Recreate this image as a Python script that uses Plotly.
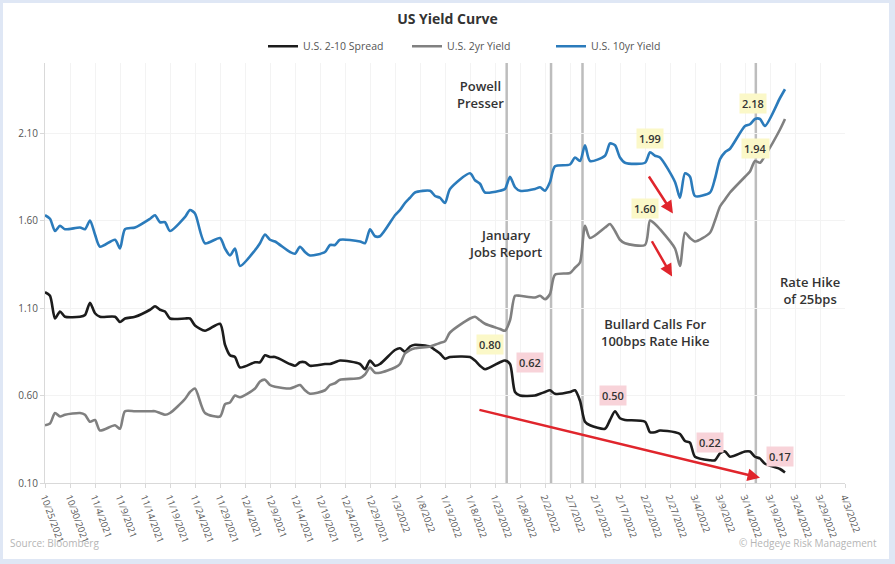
import plotly.graph_objects as go

# === DATA ===
dates = [
    "2021-10-25", "2021-10-26", "2021-10-27", "2021-10-28", "2021-10-29",
    "2021-11-01", "2021-11-02", "2021-11-03", "2021-11-04", "2021-11-05",
    "2021-11-08", "2021-11-09", "2021-11-10", "2021-11-12", "2021-11-15",
    "2021-11-16", "2021-11-17", "2021-11-18", "2021-11-19", "2021-11-22",
    "2021-11-23", "2021-11-24", "2021-11-26", "2021-11-29", "2021-11-30",
    "2021-12-01", "2021-12-02", "2021-12-03", "2021-12-06", "2021-12-07",
    "2021-12-08", "2021-12-09", "2021-12-10", "2021-12-13", "2021-12-14",
    "2021-12-15", "2021-12-16", "2021-12-17", "2021-12-20", "2021-12-21",
    "2021-12-22", "2021-12-23", "2021-12-27", "2021-12-28", "2021-12-29",
    "2021-12-30", "2021-12-31", "2022-01-03", "2022-01-04", "2022-01-05",
    "2022-01-06", "2022-01-07", "2022-01-10", "2022-01-11", "2022-01-12",
    "2022-01-13", "2022-01-14", "2022-01-18", "2022-01-19", "2022-01-20",
    "2022-01-21", "2022-01-24", "2022-01-25", "2022-01-26", "2022-01-27",
    "2022-01-28", "2022-01-31", "2022-02-01", "2022-02-02", "2022-02-03",
    "2022-02-04", "2022-02-07", "2022-02-08", "2022-02-09", "2022-02-10",
    "2022-02-11", "2022-02-14", "2022-02-15", "2022-02-16", "2022-02-17",
    "2022-02-18", "2022-02-22", "2022-02-23", "2022-02-24", "2022-02-25",
    "2022-02-28", "2022-03-01", "2022-03-02", "2022-03-03", "2022-03-04",
    "2022-03-07", "2022-03-08", "2022-03-09", "2022-03-10", "2022-03-11",
    "2022-03-14", "2022-03-15", "2022-03-16", "2022-03-17", "2022-03-18",
    "2022-03-21", "2022-03-22",
]

ten_yr = [
    1.63, 1.61, 1.54, 1.57, 1.55, 1.56, 1.55, 1.60, 1.52, 1.45,
    1.49, 1.44, 1.55, 1.56, 1.61, 1.63, 1.59, 1.59, 1.54, 1.62,
    1.66, 1.64, 1.47, 1.50, 1.44, 1.40, 1.44, 1.34, 1.43, 1.47,
    1.52, 1.49, 1.48, 1.42, 1.41, 1.45, 1.42, 1.40, 1.42, 1.46,
    1.46, 1.49, 1.48, 1.47, 1.55, 1.51, 1.51, 1.63, 1.66, 1.70,
    1.73, 1.76, 1.77, 1.74, 1.73, 1.70, 1.78, 1.87, 1.83, 1.81,
    1.76, 1.77, 1.78, 1.85, 1.79, 1.77, 1.78, 1.79, 1.77, 1.82,
    1.91, 1.92, 1.96, 1.94, 2.03, 1.94, 1.97, 2.04, 2.03, 1.96,
    1.93, 1.93, 1.99, 1.97, 1.96, 1.82, 1.73, 1.87, 1.85, 1.74,
    1.76, 1.84, 1.95, 1.99, 2.01, 2.14, 2.15, 2.18, 2.18, 2.14,
    2.30, 2.35,
]

two_yr = [
    0.43, 0.44, 0.50, 0.48, 0.49, 0.50, 0.49, 0.45, 0.46, 0.40,
    0.43, 0.41, 0.51, 0.51, 0.51, 0.51, 0.50, 0.49, 0.50, 0.58,
    0.62, 0.64, 0.50, 0.48, 0.55, 0.56, 0.60, 0.59, 0.64, 0.68,
    0.69, 0.66, 0.65, 0.64, 0.65, 0.66, 0.63, 0.61, 0.63, 0.66,
    0.67, 0.69, 0.70, 0.72, 0.76, 0.73, 0.73, 0.76, 0.78, 0.84,
    0.86, 0.87, 0.88, 0.89, 0.90, 0.91, 0.96, 1.04, 1.05, 1.03,
    1.01, 0.98, 0.97, 1.03, 1.17, 1.17, 1.16, 1.17, 1.15, 1.18,
    1.29, 1.30, 1.33, 1.36, 1.57, 1.50, 1.56, 1.58, 1.54, 1.49,
    1.47, 1.46, 1.60, 1.58, 1.55, 1.44, 1.34, 1.53, 1.50, 1.48,
    1.53, 1.60, 1.68, 1.72, 1.76, 1.85, 1.88, 1.94, 1.93, 1.97,
    2.12, 2.18,
]

spread = [
    1.19, 1.17, 1.04, 1.08, 1.05, 1.05, 1.06, 1.13, 1.07, 1.05,
    1.05, 1.02, 1.04, 1.05, 1.09, 1.11, 1.09, 1.08, 1.04, 1.04,
    1.04, 1.00, 0.97, 1.01, 0.89, 0.83, 0.82, 0.76, 0.79, 0.79,
    0.83, 0.82, 0.82, 0.78, 0.77, 0.79, 0.79, 0.77, 0.78, 0.78,
    0.79, 0.80, 0.78, 0.75, 0.80, 0.77, 0.78, 0.86, 0.87, 0.85,
    0.88, 0.89, 0.88, 0.86, 0.84, 0.81, 0.82, 0.82, 0.80, 0.77,
    0.75, 0.79, 0.80, 0.78, 0.62, 0.60, 0.60, 0.61, 0.62, 0.63,
    0.61, 0.62, 0.63, 0.57, 0.45, 0.43, 0.41, 0.46, 0.51, 0.47,
    0.46, 0.45, 0.39, 0.39, 0.40, 0.39, 0.38, 0.34, 0.33, 0.25,
    0.23, 0.23, 0.27, 0.28, 0.25, 0.28, 0.28, 0.25, 0.24, 0.21,
    0.18, 0.16,
]

# x axis ticks every 5 days
tick_dates = [
    "2021-10-25", "2021-10-30", "2021-11-04", "2021-11-09", "2021-11-14",
    "2021-11-19", "2021-11-24", "2021-11-29", "2021-12-04", "2021-12-09",
    "2021-12-14", "2021-12-19", "2021-12-24", "2021-12-29", "2022-01-03",
    "2022-01-08", "2022-01-13", "2022-01-18", "2022-01-23", "2022-01-28",
    "2022-02-02", "2022-02-07", "2022-02-12", "2022-02-17", "2022-02-22",
    "2022-02-27", "2022-03-04", "2022-03-09", "2022-03-14", "2022-03-19",
    "2022-03-24", "2022-03-29", "2022-04-03",
]

# event lines: Powell presser, January jobs report, Bullard, rate hike
event_dates = ["2022-01-25 08:00", "2022-02-03 05:00", "2022-02-09 12:00", "2022-03-16 04:00"]

# value callouts: (date, y, text, background)
callouts = [
    ("2022-02-23", 2.07, "1.99", "#fbf8c8"),
    ("2022-03-15 14:00", 2.27, "2.18", "#fbf8c8"),
    ("2022-02-22", 1.67, "1.60", "#fbf8c8"),
    ("2022-03-16", 2.01, "1.94", "#fbf8c8"),
    ("2022-01-22", 0.89, "0.80", "#fbf8c8"),
    ("2022-01-30", 0.79, "0.62", "#f8d3d9"),
    ("2022-02-15 14:00", 0.60, "0.50", "#f8d3d9"),
    ("2022-03-07", 0.33, "0.22", "#f8d3d9"),
    ("2022-03-21", 0.25, "0.17", "#f8d3d9"),
]

# event captions: (date, y, text)
captions = [
    ("2022-01-20", 2.32, "Powell<br>Presser"),
    ("2022-01-25", 1.47, "January<br>Jobs Report"),
    ("2022-02-24", 0.96, "Bullard Calls For<br>100bps Rate Hike"),
    ("2022-03-27", 1.20, "Rate Hike<br>of 25bps"),
]

# red arrows: (tail date, tail y, head date, head y)
arrows = [
    ("2022-01-19 14:00", 0.52, "2022-03-17", 0.13),
    ("2022-02-22 14:00", 1.86, "2022-02-27 14:00", 1.64),
    ("2022-02-23 05:00", 1.49, "2022-02-27 10:00", 1.28),
]

# === FIGURE ===
fig = go.Figure()

series = [
    ("U.S. 2-10 Spread", spread, "#1c1c1c"),
    ("U.S. 2yr Yield", two_yr, "#808080"),
    ("U.S. 10yr Yield", ten_yr, "#2b7bbb"),
]
for name, vals, color in series:
    fig.add_trace(go.Scatter(
        x=dates, y=vals, mode="lines", name=name,
        line=dict(color=color, width=2.6, shape="spline", smoothing=0.7),
    ))

# white card with light blue frame
shapes = [dict(
    type="rect", xref="paper", yref="paper", layer="below",
    x0=-0.0525, x1=1.055, y0=-0.181, y1=1.143,
    fillcolor="white", line=dict(width=0),
)]
for d in event_dates:
    shapes.append(dict(
        type="line", xref="x", yref="paper", layer="between",
        x0=d, x1=d, y0=0, y1=1,
        line=dict(color="#bdbdbd", width=2.5),
    ))

annotations = []
for x, y, text, bg in callouts:
    annotations.append(dict(
        x=x, y=y, xref="x", yref="y", text=text, showarrow=False,
        bgcolor=bg, borderpad=2,
        font=dict(family="Open Sans", size=11, color="#333333", weight=600),
    ))
for x, y, text in captions:
    annotations.append(dict(
        x=x, y=y, xref="x", yref="y", text=text, showarrow=False,
        align="center",
        font=dict(family="Open Sans", size=13, color="#333333", weight=600),
    ))
for tx, ty, hx, hy in arrows:
    annotations.append(dict(
        x=hx, y=hy, ax=tx, ay=ty, xref="x", yref="y", axref="x", ayref="y",
        text="", showarrow=True, arrowhead=2, arrowsize=1, arrowwidth=2.5,
        arrowcolor="#e0252c",
    ))

annotations.append(dict(
    x=-0.046, y=-0.164, xref="paper", yref="paper", xanchor="left",
    text="Source: Bloomberg", showarrow=False,
    font=dict(family="Open Sans", size=10, color="#b5b5b5"),
))
annotations.append(dict(
    x=1.0425, y=-0.164, xref="paper", yref="paper", xanchor="right",
    text="© Hedgeye Risk Management", showarrow=False,
    font=dict(family="Open Sans", size=10, color="#b5b5b5"),
))

fig.update_layout(
    width=895, height=564,
    margin=dict(l=45, r=50, t=63, b=81),
    paper_bgcolor="#dfe7f5",
    plot_bgcolor="white",
    title=dict(text="US Yield Curve", x=0.5, xanchor="center", y=0.966, yanchor="middle",
               font=dict(family="Open Sans", size=14, color="#333333", weight=700)),
    legend=dict(orientation="h", x=0.5425, xanchor="center", y=1.04, yanchor="middle",
                entrywidth=99, entrywidthmode="pixels",
                font=dict(family="Open Sans", size=10.5, color="#555555"),
                bgcolor="rgba(0,0,0,0)"),
    xaxis=dict(
        type="date", range=["2021-10-25", "2022-04-03"], automargin=False,
        tickvals=tick_dates, tickformat="%-m/%-d/%Y", tickangle=70,
        tickfont=dict(family="Open Sans", size=9.5, color="#555555"),
        showgrid=True, gridcolor="#f3f3f3",
        showline=True, linecolor="#d9d9d9", linewidth=1,
        ticks="outside", ticklen=4, tickcolor="#d9d9d9",
    ),
    yaxis=dict(
        range=[0.10, 2.50], tick0=0.10, dtick=0.5, tickformat=".2f", automargin=False,
        tickfont=dict(family="Open Sans", size=10, color="#555555"),
        showgrid=True, gridcolor="#f3f3f3", zeroline=False,
        showline=True, linecolor="#d9d9d9", linewidth=1,
        ticks="outside", ticklen=4, tickcolor="#d9d9d9",
    ),
    shapes=shapes,
    annotations=annotations,
    showlegend=True,
)

# page body has a default 8px margin; drop it so the figure sits at the corner
fig.write_html("out.html", config={"displayModeBar": False},
               post_script="document.body.style.margin='0';")
